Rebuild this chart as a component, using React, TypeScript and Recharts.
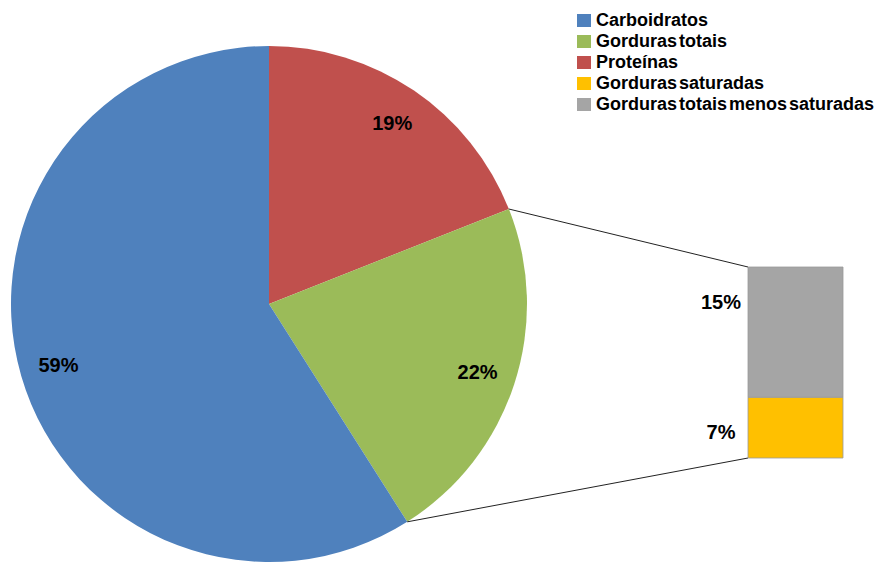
import { PieChart, Pie, Cell, BarChart, Bar, XAxis, YAxis, LabelList } from 'recharts';

// valores (%)
const pieNames = ['Proteínas', 'Gorduras totais', 'Carboidratos'];
const pieValues = [19, 22, 59];
const pieColors = ['#C0504D', '#9BBB59', '#4F81BD'];

const barNames = ['Gorduras saturadas', 'Gorduras totais menos saturadas'];
const barValues = [7, 15];
const barColors = ['#FFC000', '#A5A5A5'];

const legendNames = ['Carboidratos', 'Gorduras totais', 'Proteínas', 'Gorduras saturadas', 'Gorduras totais menos saturadas'];
const legendColors = ['#4F81BD', '#9BBB59', '#C0504D', '#FFC000', '#A5A5A5'];

const W = 877;
const H = 562;
const FONT = '"Liberation Sans", Arial, sans-serif';

// posição do gráfico de barras (a "explosão" das gorduras totais)
const BAR_BOX = { left: 680, top: 250, width: 177, height: 230 };
const BAR_MARGIN = { top: 17, right: 14, bottom: 22, left: 68 };
const BAR_X = BAR_BOX.left + BAR_MARGIN.left;
const BAR_TOP = BAR_BOX.top + BAR_MARGIN.top;
const BAR_BOTTOM = BAR_BOX.top + BAR_BOX.height - BAR_MARGIN.bottom;

const pieData = pieNames.map((name, i) => ({ name, value: pieValues[i] }));
const barData = [
  barNames.reduce((acc: any, n, i) => ({ ...acc, [n]: barValues[i] }), { name: 'Gorduras totais' }),
];

const RAD = Math.PI / 180;
const polar = (cx: number, cy: number, r: number, a: number) => ({
  x: cx + Math.cos(-a * RAD) * r,
  y: cy + Math.sin(-a * RAD) * r,
});

function PieLabel(props: any) {
  const { cx, cy, midAngle, outerRadius, startAngle, endAngle, index, value } = props;
  const p = polar(cx, cy, outerRadius * 0.85, midAngle);
  const a = polar(cx, cy, outerRadius, startAngle);
  const b = polar(cx, cy, outerRadius, endAngle);
  return (
    <g>
      {index === 1 && (
        <g stroke="#222" strokeWidth={1}>
          <line x1={a.x} y1={a.y} x2={BAR_X} y2={BAR_TOP} />
          <line x1={b.x} y1={b.y} x2={BAR_X} y2={BAR_BOTTOM} />
        </g>
      )}
      <text
        x={p.x}
        y={p.y}
        textAnchor="middle"
        dominantBaseline="central"
        fontFamily={FONT}
        fontWeight="bold"
        fontSize={20}
        fill="#000"
      >
        {value}%
      </text>
    </g>
  );
}

function BarLabel(props: any) {
  const { x, y, value } = props;
  return (
    <text
      x={x - 27}
      y={y + 35}
      textAnchor="middle"
      dominantBaseline="central"
      fontFamily={FONT}
      fontWeight="bold"
      fontSize={20}
      fill="#000"
    >
      {value}%
    </text>
  );
}

export default function App() {
  return (
    <div style={{ position: 'relative', width: W, height: H, background: '#fff', overflow: 'hidden' }}>
      <style>{`body{margin:0}`}</style>
      <div style={{ position: 'absolute', left: 0, top: 0 }}>
        <PieChart width={W} height={H} margin={{ top: 0, right: 0, bottom: 0, left: 0 }}>
          <Pie
            data={pieData}
            dataKey="value"
            cx={269}
            cy={304}
            outerRadius={258}
            startAngle={90}
            endAngle={-270}
            stroke="none"
            labelLine={false}
            label={PieLabel}
            isAnimationActive={false}
          >
            {pieData.map((d, i) => (
              <Cell key={d.name} fill={pieColors[i]} />
            ))}
          </Pie>
        </PieChart>
      </div>

      <div style={{ position: 'absolute', left: BAR_BOX.left, top: BAR_BOX.top }}>
        <BarChart
          width={BAR_BOX.width}
          height={BAR_BOX.height}
          data={barData}
          margin={BAR_MARGIN}
          barCategoryGap={0}
        >
          <XAxis dataKey="name" hide />
          <YAxis hide domain={[0, 22]} />
          {barNames.map((n, i) => (
            <Bar
              key={n}
              dataKey={n}
              stackId="g"
              fill={barColors[i]}
              stroke="#9a9a9a"
              strokeWidth={0.8}
              isAnimationActive={false}
            >
              <LabelList dataKey={n} content={BarLabel} />
            </Bar>
          ))}
        </BarChart>
      </div>

      <div style={{ position: 'absolute', left: 577, top: 10, fontFamily: FONT, fontWeight: 'bold', fontSize: 18 }}>
        {legendNames.map((n, i) => (
          <div key={n} style={{ display: 'flex', alignItems: 'center', height: 21, whiteSpace: 'nowrap' }}>
            <span style={{ width: 14, height: 13, background: legendColors[i], marginRight: 5, display: 'inline-block' }} />
            <span style={{ wordSpacing: -3, color: '#000' }}>{n}</span>
          </div>
        ))}
      </div>
    </div>
  );
}
